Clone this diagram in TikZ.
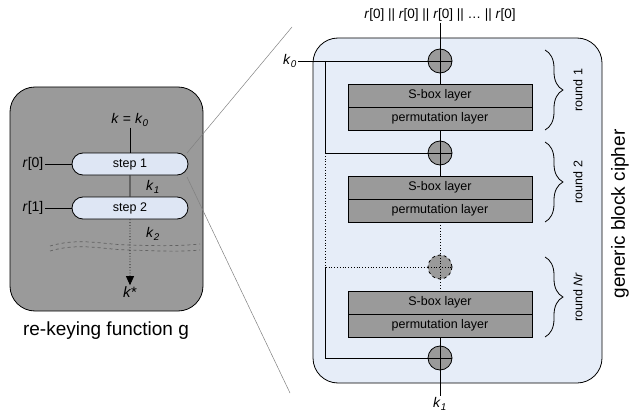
\documentclass[tikz,border=0pt]{standalone}
\usepackage{fontspec}
\setmainfont{Liberation Sans}
\usetikzlibrary{shapes.misc,arrows.meta,decorations.pathreplacing}

\definecolor{boxgray}{HTML}{9A9A9A}
\definecolor{pillblue}{HTML}{DEE6F4}
\definecolor{cipherblue}{HTML}{E6EDF8}

\tikzset{
  lbl/.style={font=\fontsize{14}{16}\selectfont, inner sep=1pt},
  pill/.style={rounded rectangle, draw, fill=pillblue, minimum width=116pt,
    minimum height=22pt, inner sep=0pt, font=\fontsize{12.5}{14}\selectfont},
  layer/.style={draw, fill=boxgray, minimum width=184pt, minimum height=23pt,
    inner sep=0pt, font=\fontsize{12.5}{14}\selectfont},
  xor/.style={circle, draw, fill=boxgray, minimum size=24pt, inner sep=0pt,
    path picture={\draw (path picture bounding box.north) -- (path picture bounding box.south)
      (path picture bounding box.west) -- (path picture bounding box.east);}},
  xordash/.style={circle, draw, dashed, fill=boxgray, minimum size=24pt, inner sep=0pt,
    path picture={\draw[dotted] (path picture bounding box.north) -- (path picture bounding box.south)
      (path picture bounding box.west) -- (path picture bounding box.east);}},
  roundbrace/.style={decorate, decoration={brace, amplitude=18pt}},
  roundlbl/.style={rotate=90, inner sep=1pt, font=\fontsize{12.5}{14}\selectfont},
  zoomline/.style={gray, line width=0.5pt},
  wave/.style={black!62, dashed, line width=0.7pt},
}

\begin{document}
\begin{tikzpicture}[x=1pt, y=-1pt, line width=0.8pt]
\useasboundingbox (0,0) rectangle (635,412);

% re-keying function
\draw[fill=boxgray, rounded corners=25pt] (10,87) rectangle (203,311);
\node[lbl] (kk) at (130,120) {\textit{k} = \textit{k}\textsubscript{\textit{0}}};
\node[pill] (s1) at (130,164) {step 1};
\node[pill] (s2) at (130,208) {step 2};
\node[lbl] (r0) at (33,164) {\textit{r}[0]};
\node[lbl] (r1) at (33,208) {\textit{r}[1]};
\node[lbl] at (153,187) {\textit{k}\textsubscript{\textit{1}}};
\node[lbl] at (153,234) {\textit{k}\textsubscript{\textit{2}}};
\node[lbl, font=\fontsize{15}{17}\selectfont] (kstar) at (130,292) {\textit{k}*};
\draw (kk) -- (s1);
\draw (s1) -- (s2);
\draw (r0) -- (s1);
\draw (r1) -- (s2);
\draw[wave] (50,246) .. controls (80,237) and (105,245) .. (130,245)
  .. controls (160,246) and (180,246) .. (200,244);
\draw[wave] (50,251) .. controls (80,242) and (105,250) .. (130,250)
  .. controls (160,251) and (180,252) .. (200,250);
\draw[dotted, -{Triangle[length=9pt,width=8pt]}] (s2) -- (kstar);
\node[font=\fontsize{19}{22}\selectfont] at (106,331) {re-keying function g};

% zoom lines
\coordinate (za) at (187,153);
\coordinate (zb) at (187,177);
\coordinate (zt) at (292,27);
\coordinate (zu) at (290,393);
\draw[zoomline] (za) -- (zt);
\draw[zoomline] (zb) -- (zu);

% generic block cipher
\draw[fill=cipherblue, rounded corners=25pt] (313,38) rectangle (602,383);
\node[lbl, font=\fontsize{13.5}{16}\selectfont] (rin) at (440,15)
  {\textit{r}[0] || \textit{r}[0] || \textit{r}[0] || \dots\ || \textit{r}[0]};
\node[xor] (x1) at (440,61) {};
\node[xor] (x2) at (440,153) {};
\node[xordash] (x3) at (440,267) {};
\node[xor] (x4) at (440,358) {};
\node[layer] (sb1) at (440,95.5) {S-box layer};
\node[layer] (pl1) at (440,118.5) {permutation layer};
\node[layer] (sb2) at (440,187.5) {S-box layer};
\node[layer] (pl2) at (440,210.5) {permutation layer};
\node[layer] (sb3) at (440,302.5) {S-box layer};
\node[layer] (pl3) at (440,325.5) {permutation layer};
\node[lbl] (k0) at (290,61) {\textit{k}\textsubscript{\textit{0}}};
\node[lbl] (k1) at (440,404) {\textit{k}\textsubscript{\textit{1}}};
\coordinate (ka) at (325,61);
\draw (rin) -- (x1);
\draw (x1) -- (sb1);
\draw (pl1) -- (x2);
\draw (x2) -- (sb2);
\draw[dotted] (pl2) -- (x3);
\draw[dotted] (x3) -- (sb3);
\draw (pl3) -- (x4);
\draw (x4) -- (k1);
\draw (k0) -- (x1);
\draw (ka) |- (x2);
\draw[dotted] (ka |- x2) |- (x3);
\draw (ka |- x3) |- (x4);

% rounds
\draw[roundbrace] (545,50) -- (545,130);
\draw[roundbrace] (545,142) -- (545,222);
\draw[roundbrace] (545,257) -- (545,337);
\node[roundlbl] at (578,90) {round 1};
\node[roundlbl] at (578,182) {round 2};
\node[roundlbl] at (578,297) {round \textit{Nr}};
\node[rotate=90, font=\fontsize{19}{22}\selectfont] at (620,214) {generic block cipher};
\end{tikzpicture}
\end{document}
